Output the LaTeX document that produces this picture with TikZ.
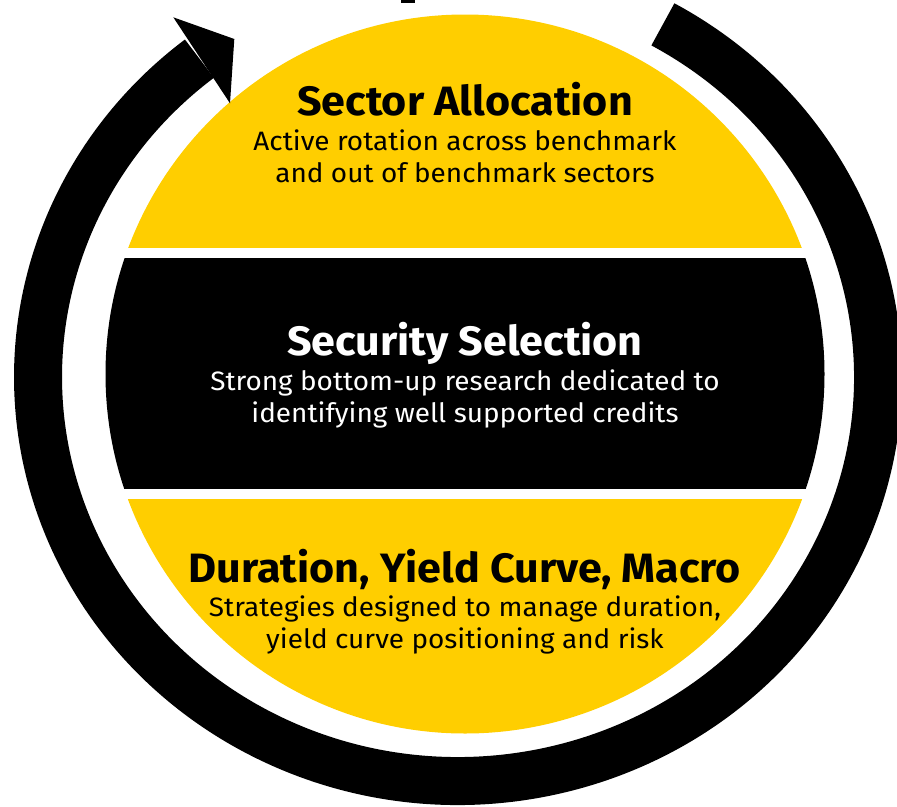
\documentclass[tikz,border=0pt]{standalone}
\usepackage{fontspec}
\setmainfont{Fira Sans}[FakeStretch=1.05]
\definecolor{brYellow}{RGB}{255,206,0}
\begin{document}
\begin{tikzpicture}[x=1pt,y=-1pt,
  title/.style={font=\fontsize{41}{41}\selectfont\bfseries, anchor=base, inner sep=0pt},
  desc/.style={font=\fontsize{26.6}{26.6}\selectfont, anchor=base, inner sep=0pt},
  ringline/.style={line width=48pt, draw=black}]
\useasboundingbox (0,0) rectangle (897,806);
\clip (0,0) rectangle (897,806);
\coordinate (c) at (465,374);
\coordinate (rc) at (458,377);
\begin{scope}
  \clip (c) circle[radius=359.5];
  \fill[brYellow] (100,0) rectangle (830,248);
  \fill[black] (100,258) rectangle (830,489);
  \fill[brYellow] (100,499) rectangle (830,740);
\end{scope}
% ring with arrow
\draw[ringline] (rc) ++(-60.8:420 and 404) arc[start angle=-60.8, end angle=232, x radius=420, y radius=404];
\fill[black] (173.3,17.3) -- (234.3,39) -- (230,103.3) -- cycle;
% cut-off fragment at top
\fill[black] (401,0) rectangle (415,3);
% texts
\node[title] (t1) at (465,115) {Sector Allocation};
\node[desc] (d1a) at (465,150) {Active rotation across benchmark};
\node[desc] (d1b) at (465,182) {and out of benchmark sectors};
\node[title, text=white] (t2) at (465,355) {Security Selection};
\node[desc, text=white] (d2a) at (465,390) {Strong bottom-up research dedicated to};
\node[desc, text=white] (d2b) at (465,422) {identifying well supported credits};
\node[title] (t3) at (465,582) {Duration, Yield Curve, Macro};
\node[desc] (d3a) at (465,616) {Strategies designed to manage duration,};
\node[desc] (d3b) at (465,648) {yield curve positioning and risk};
\end{tikzpicture}
\end{document}
